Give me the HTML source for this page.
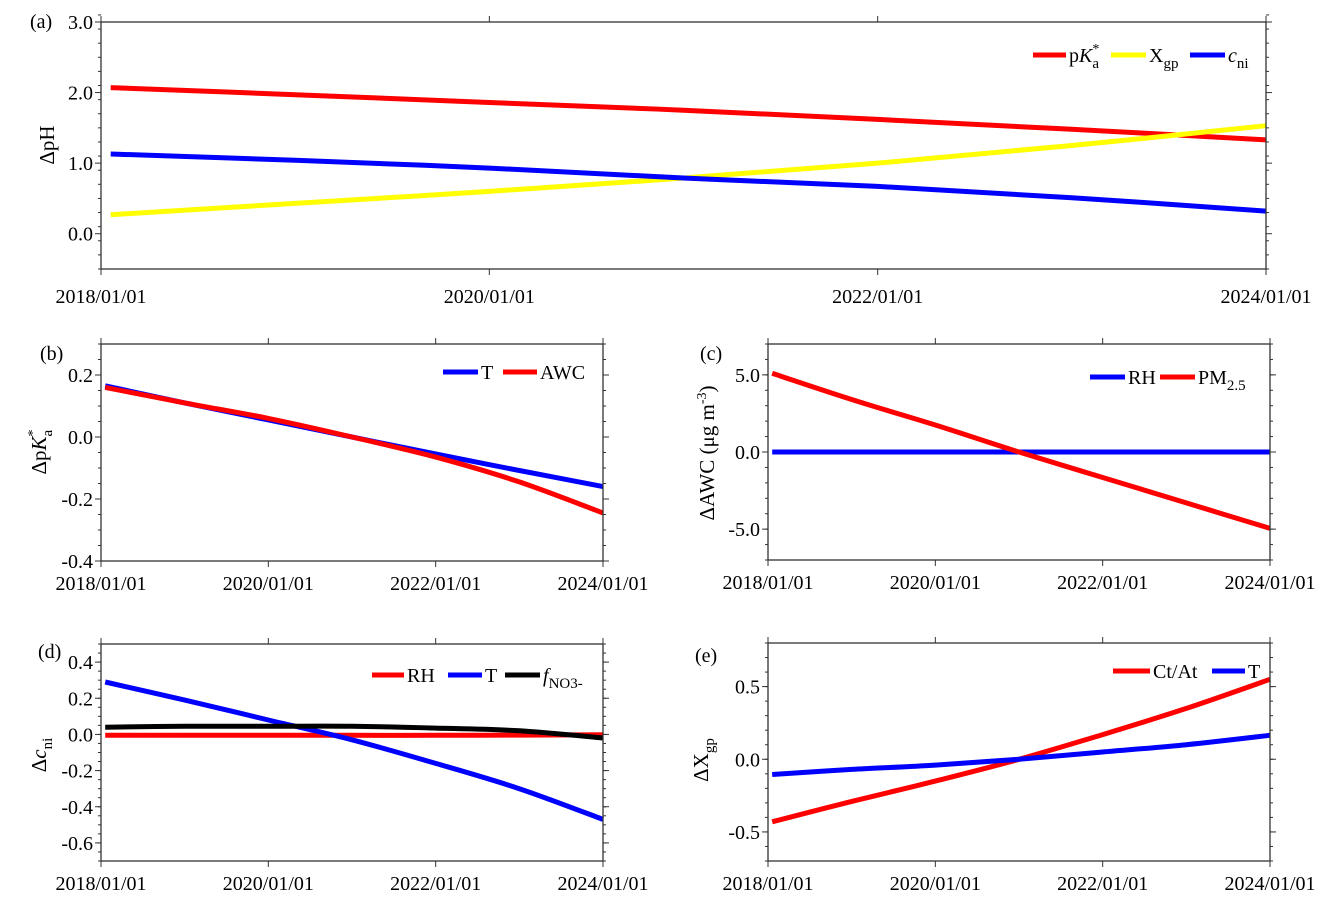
<!DOCTYPE html>
<html><head><meta charset="utf-8"><style>
body{margin:0;background:#fff}
svg{font-family:"Liberation Serif",serif;}
</style></head><body>
<svg id="fig" width="1329" height="905" xmlns="http://www.w3.org/2000/svg"></svg>
<script>
// shared time axis (years since 2018/01/01)
const years = [0.05, 1, 2, 3, 4, 5, 6];
const xTickLabels = ["2018/01/01","2020/01/01","2022/01/01","2024/01/01"];
const xTickYears = [0, 2, 4, 6];
// panel a
const aPKa = [2.07, 1.97, 1.86, 1.75, 1.62, 1.48, 1.33];
const aXgp = [0.27, 0.43, 0.60, 0.79, 1.00, 1.25, 1.53];
const aCni = [1.13, 1.04, 0.93, 0.79, 0.67, 0.51, 0.32];
const aTicks = [0.0, 1.0, 2.0, 3.0];
// panel b
const bT = [0.165, 0.11, 0.055, 0.0, -0.055, -0.108, -0.16];
const bAWC = [0.16, 0.11, 0.06, 0.0, -0.065, -0.145, -0.245];
const bTicks = [-0.4, -0.2, 0.0, 0.2];
// panel c
const cRH = [0, 0, 0, 0, 0, 0, 0];
const cPM = [5.1, 3.4, 1.75, 0.0, -1.65, -3.3, -4.95];
const cTicks = [-5.0, 0.0, 5.0];
// panel d
const dRH = [-0.005, -0.005, -0.005, -0.005, -0.005, -0.004, -0.002];
const dT = [0.29, 0.19, 0.08, -0.03, -0.16, -0.30, -0.47];
const dF = [0.04, 0.045, 0.045, 0.045, 0.035, 0.02, -0.02];
const dTicks = [-0.6, -0.4, -0.2, 0.0, 0.2, 0.4];
// panel e
const eCtAt = [-0.43, -0.29, -0.15, 0.0, 0.17, 0.35, 0.55];
const eT = [-0.105, -0.07, -0.04, 0.0, 0.05, 0.10, 0.165];
const eTicks = [-0.5, 0.0, 0.5];

const NS = "http://www.w3.org/2000/svg";
const svg = document.getElementById('fig');
function mk(tag, attrs, parent, text){
  const el = document.createElementNS(NS, tag);
  for (const k in attrs) el.setAttribute(k, attrs[k]);
  if (text !== undefined) el.innerHTML = text;
  (parent||svg).appendChild(el);
  return el;
}
function smooth(pts){
  let d = 'M' + pts[0][0].toFixed(1) + ' ' + pts[0][1].toFixed(1);
  for (let i = 0; i < pts.length - 1; i++) {
    const p0 = pts[Math.max(i - 1, 0)], p1 = pts[i], p2 = pts[i + 1], p3 = pts[Math.min(i + 2, pts.length - 1)];
    const c1 = [p1[0] + (p2[0] - p0[0]) / 6, p1[1] + (p2[1] - p0[1]) / 6];
    const c2 = [p2[0] - (p3[0] - p1[0]) / 6, p2[1] - (p3[1] - p1[1]) / 6];
    d += ' C' + c1.map(v => v.toFixed(1)).join(' ') + ' ' + c2.map(v => v.toFixed(1)).join(' ') + ' ' + p2.map(v => v.toFixed(1)).join(' ');
  }
  return d;
}

function panel(cfg){
  const g = mk('g', {});
  
  
  const {L, R, T, B, ymin, ymax} = cfg;
  const sx = t => L + (R - L) * t / 6;
  const sy = v => B - (B - T) * (v - ymin) / (ymax - ymin);
  cfg.series.forEach(s => {
    const pts = years.map((t, i) => [sx(t), sy(s.v[i])]);
    const p = mk('path', {d: smooth(pts), fill: 'none', stroke: s.c, 'stroke-width': 5, 'stroke-linejoin': 'round'}, g);
    
    
  });
  const fr = mk('rect', {x: L, y: T, width: R - L, height: B - T, fill: 'none', stroke: '#333', 'stroke-width': 1.3}, g);
  
  
  const nMin = Math.round((ymax - ymin) / cfg.minor);
  for (let i = 0; i <= nMin; i++) {
    const v = ymin + i * cfg.minor, y = sy(v);
    mk('line', {x1: L - 3, x2: L, y1: y, y2: y, stroke: '#333'}, g);
    mk('line', {x1: R, x2: R + 3, y1: y, y2: y, stroke: '#333'}, g);
  }
  cfg.ticks.forEach(v => {
    const y = sy(v);
    mk('line', {x1: L - 6, x2: L, y1: y, y2: y, stroke: '#333'}, g);
    mk('line', {x1: R, x2: R + 6, y1: y, y2: y, stroke: '#333'}, g);
    const t = mk('text', {x: L - 8, y: y + 7, 'text-anchor': 'end', 'font-size': 20}, g, v.toFixed(1));
    
    
  });
  xTickYears.forEach((yr, i) => {
    const x = sx(yr);
    mk('line', {x1: x, x2: x, y1: B, y2: B + 6, stroke: '#333'}, g);
    mk('line', {x1: x, x2: x, y1: T - 6, y2: T, stroke: '#333'}, g);
    const t = mk('text', {x: x, y: B + cfg.xlabOff, 'text-anchor': 'middle', 'font-size': 20}, g, xTickLabels[i]);
    
    
  });
  const pl = mk('text', {x: cfg.lx, y: cfg.ly, 'font-size': 20}, g, '(' + cfg.id + ')');
  
  
  const yt = mk('text', {x: 0, y: 0, 'text-anchor': 'middle', 'font-size': 21, transform: 'translate(' + cfg.tx + ',' + cfg.ty + ') rotate(-90)'}, g, cfg.title);
  
  
  cfg.legend.forEach(e => {
    const lg = mk('g', {}, g);
    
    
    mk('line', {x1: e.x1, x2: e.x2, y1: e.y, y2: e.y, stroke: e.c, 'stroke-width': 5}, lg);
    mk('text', {x: e.x2 + 3, y: e.y + 7, 'font-size': 20}, lg, e.t);
  });
}

const sub = s => '<tspan dy="6" font-size="15">' + s + '</tspan>';
panel({id:'a', L:101, R:1266, T:22, B:269, ymin:-0.5, ymax:3.0, minor:0.2, ticks:aTicks, xlabOff:34,
  lx:30, ly:28, tx:54, ty:145, title:'ΔpH',
  series:[{n:'pka',c:'#ff0000',v:aPKa},{n:'xgp',c:'#ffff00',v:aXgp},{n:'cni',c:'#0000ff',v:aCni}],
  legend:[{x1:1033,x2:1066,y:55,c:'#ff0000',t:'p<tspan font-style="italic">K</tspan><tspan dy="-9" font-size="14">*</tspan><tspan dx="-7" dy="15" font-size="15">a</tspan>'},
          {x1:1111,x2:1146,y:55,c:'#ffff00',t:'X'+sub('gp')},
          {x1:1190,x2:1225,y:55,c:'#0000ff',t:'<tspan font-style="italic">c</tspan>'+sub('ni')}]});
panel({id:'b', L:101, R:603, T:344, B:561, ymin:-0.4, ymax:0.3, minor:0.05, ticks:bTicks, xlabOff:29,
  lx:40, ly:360, tx:46, ty:452, title:'Δp<tspan font-style="italic">K</tspan><tspan dy="-9" font-size="14">*</tspan><tspan dx="-7" dy="15" font-size="15">a</tspan>',
  series:[{n:'t',c:'#0000ff',v:bT},{n:'awc',c:'#ff0000',v:bAWC}],
  legend:[{x1:443,x2:478,y:372,c:'#0000ff',t:'T'},{x1:503,x2:537,y:372,c:'#ff0000',t:'AWC'}]});
panel({id:'c', L:768, R:1270, T:344, B:560, ymin:-7, ymax:7, minor:1, ticks:cTicks, xlabOff:29,
  lx:700, ly:360, tx:714, ty:453, title:'ΔAWC (μg m<tspan dy="-8" font-size="14">-3</tspan><tspan dy="8">)</tspan>',
  series:[{n:'rh',c:'#0000ff',v:cRH},{n:'pm25',c:'#ff0000',v:cPM}],
  legend:[{x1:1090,x2:1125,y:377,c:'#0000ff',t:'RH'},{x1:1160,x2:1195,y:377,c:'#ff0000',t:'PM'+sub('2.5')}]});
panel({id:'d', L:101, R:603, T:644, B:861, ymin:-0.7, ymax:0.5, minor:0.05, ticks:dTicks, xlabOff:29,
  lx:38, ly:658, tx:46, ty:755, title:'Δ<tspan font-style="italic">c</tspan>'+sub('ni'),
  series:[{n:'rh',c:'#ff0000',v:dRH},{n:'t',c:'#0000ff',v:dT},{n:'fno3',c:'#000000',v:dF}],
  legend:[{x1:372,x2:404,y:675,c:'#ff0000',t:'RH'},{x1:448,x2:482,y:675,c:'#0000ff',t:'T'},
          {x1:505,x2:540,y:675,c:'#000000',t:'<tspan font-style="italic">f</tspan>'+sub('NO3-')}]});
panel({id:'e', L:768, R:1270, T:643, B:861, ymin:-0.7, ymax:0.8, minor:0.1, ticks:eTicks, xlabOff:29,
  lx:695, ly:662, tx:708, ty:760, title:'ΔX'+sub('gp'),
  series:[{n:'ctat',c:'#ff0000',v:eCtAt},{n:'t',c:'#0000ff',v:eT}],
  legend:[{x1:1113,x2:1150,y:671,c:'#ff0000',t:'Ct/At'},{x1:1212,x2:1245,y:671,c:'#0000ff',t:'T'}]});
</script>
</body></html>
